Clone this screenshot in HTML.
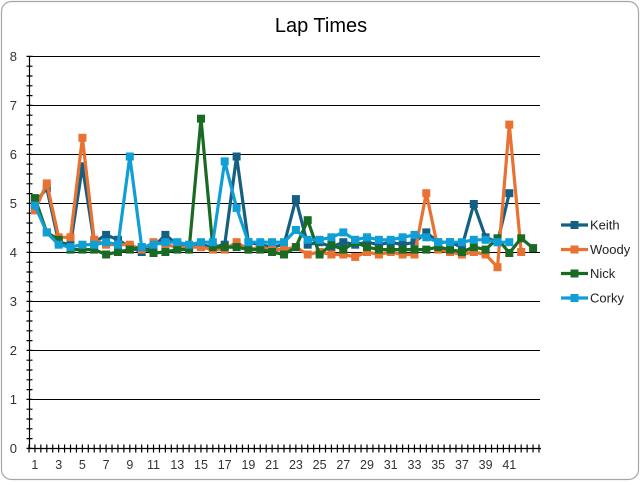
<!DOCTYPE html>
<html>
<head>
<meta charset="utf-8">
<style>
html,body{margin:0;padding:0;background:#fff;}
svg{display:block;}
text{font-family:"Liberation Sans",sans-serif;}
</style>
</head>
<body>
<svg width="641" height="482" viewBox="0 0 641 482" xmlns="http://www.w3.org/2000/svg">
<defs>
<marker id="mK" markerUnits="userSpaceOnUse" markerWidth="8" markerHeight="8" refX="4" refY="4" overflow="visible"><rect x="0" y="0" width="8" height="8" fill="#156082"/></marker>
<marker id="mW" markerUnits="userSpaceOnUse" markerWidth="8" markerHeight="8" refX="4" refY="4" overflow="visible"><rect x="0" y="0" width="8" height="8" fill="#E97132"/></marker>
<marker id="mN" markerUnits="userSpaceOnUse" markerWidth="8" markerHeight="8" refX="4" refY="4" overflow="visible"><rect x="0" y="0" width="8" height="8" fill="#196B24"/></marker>
<marker id="mC" markerUnits="userSpaceOnUse" markerWidth="8" markerHeight="8" refX="4" refY="4" overflow="visible"><rect x="0" y="0" width="8" height="8" fill="#0F9ED5"/></marker>
</defs>
<rect x="1.5" y="1.5" width="637" height="478" rx="10" ry="10" fill="#fff" stroke="#a6a6a6" stroke-width="1.2"/>
<text x="321" y="32" font-size="20" text-anchor="middle" fill="#000">Lap Times</text>

<!-- gridlines -->
<g stroke="#000" stroke-width="1.1">
<line x1="29" y1="56.5" x2="540" y2="56.5"/>
<line x1="29" y1="105.5" x2="540" y2="105.5"/>
<line x1="29" y1="154.5" x2="540" y2="154.5"/>
<line x1="29" y1="203.5" x2="540" y2="203.5"/>
<line x1="29" y1="252.5" x2="540" y2="252.5"/>
<line x1="29" y1="301.5" x2="540" y2="301.5"/>
<line x1="29" y1="350.5" x2="540" y2="350.5"/>
<line x1="29" y1="399.5" x2="540" y2="399.5"/>
</g>
<!-- axes -->
<line x1="29.5" y1="56" x2="29.5" y2="448" stroke="#000" stroke-width="1.2"/>
<line x1="29" y1="448.5" x2="541" y2="448.5" stroke="#000" stroke-width="1.2"/>
<!-- y ticks -->
<line x1="29.5" y1="449" x2="29.5" y2="55" stroke="#000" stroke-width="6" stroke-dasharray="1.2 8.6"/>
<!-- x ticks -->
<line x1="28.4" y1="448.5" x2="542" y2="448.5" stroke="#000" stroke-width="8" stroke-dasharray="1.2 4.73"/>

<!-- y labels -->
<g font-size="13" fill="#333" text-anchor="end">
<text x="17" y="61">8</text>
<text x="17" y="110">7</text>
<text x="17" y="159">6</text>
<text x="17" y="208">5</text>
<text x="17" y="257">4</text>
<text x="17" y="306">3</text>
<text x="17" y="355">2</text>
<text x="17" y="404">1</text>
<text x="17" y="453">0</text>
</g>
<!-- x labels -->
<g font-size="12.5" fill="#333" text-anchor="middle">
<text x="34.9" y="469">1</text>
<text x="58.7" y="469">3</text>
<text x="82.4" y="469">5</text>
<text x="106.1" y="469">7</text>
<text x="129.8" y="469">9</text>
<text x="153.5" y="469">11</text>
<text x="177.3" y="469">13</text>
<text x="201" y="469">15</text>
<text x="224.7" y="469">17</text>
<text x="248.4" y="469">19</text>
<text x="272.1" y="469">21</text>
<text x="295.9" y="469">23</text>
<text x="319.6" y="469">25</text>
<text x="343.3" y="469">27</text>
<text x="367" y="469">29</text>
<text x="390.7" y="469">31</text>
<text x="414.5" y="469">33</text>
<text x="438.2" y="469">35</text>
<text x="461.9" y="469">37</text>
<text x="485.6" y="469">39</text>
<text x="509.3" y="469">41</text>
</g>

<g fill="none" stroke-width="3.2" stroke-linejoin="round">
<!-- Keith -->
<polyline stroke="#156082" marker-start="url(#mK)" marker-mid="url(#mK)" marker-end="url(#mK)" points="34.9,203 46.8,188.3 58.7,242.2 70.5,244.7 82.4,166.3 94.2,242.2 106.1,234.9 118,239.8 129.8,247.1 141.7,252 153.5,247.1 165.4,234.9 177.3,244.7 189.1,247.1 201,244.7 212.8,247.1 224.7,244.7 236.6,156.5 248.4,242.2 260.3,244.7 272.1,247.1 284,244.7 295.9,199.1 307.7,244.7 319.6,242.2 331.4,247.1 343.3,242.2 355.2,244.7 367,242.2 378.9,244.7 390.7,242.2 402.6,244.7 414.5,242.2 426.3,232.4 438.2,242.2 450,242.2 461.9,247.1 473.8,204 485.6,237.3 497.5,242.2 509.3,193.2"/>
<!-- Woody -->
<polyline stroke="#E97132" marker-start="url(#mW)" marker-mid="url(#mW)" marker-end="url(#mW)" points="34.9,210.4 46.8,183.4 58.7,237.3 70.5,237.3 82.4,137.8 94.2,239.8 106.1,244.7 118,244.7 129.8,244.7 141.7,249.6 153.5,242.2 165.4,244.7 177.3,247.1 189.1,247.1 201,247.1 212.8,249.6 224.7,249.6 236.6,242.2 248.4,249.6 260.3,247.1 272.1,249.6 284,249.6 295.9,247.1 307.7,254.5 319.6,252 331.4,254.5 343.3,254.5 355.2,256.9 367,252 378.9,254.5 390.7,252 402.6,254.5 414.5,254.5 426.3,193.2 438.2,249.6 450,252 461.9,254.5 473.8,252 485.6,254.5 497.5,267.2 509.3,124.6 521.2,252"/>
<!-- Nick -->
<polyline stroke="#196B24" marker-start="url(#mN)" marker-mid="url(#mN)" marker-end="url(#mN)" points="34.9,198.1 46.8,232.4 58.7,239.8 70.5,249.6 82.4,249.6 94.2,249.6 106.1,254.5 118,252 129.8,249.6 141.7,247.1 153.5,253 165.4,252 177.3,249.6 189.1,249.6 201,118.7 212.8,247.1 224.7,247.1 236.6,247.1 248.4,249.6 260.3,249.6 272.1,252 284,254.5 295.9,247.1 307.7,220.2 319.6,254.5 331.4,244.7 343.3,249.6 355.2,242.2 367,247.1 378.9,249.6 390.7,249.6 402.6,249.6 414.5,249.6 426.3,249.6 438.2,247.1 450,249.6 461.9,252 473.8,247.1 485.6,249.6 497.5,238.3 509.3,253 521.2,238.3 533.1,248.1"/>
<!-- Corky -->
<polyline stroke="#0F9ED5" marker-start="url(#mC)" marker-mid="url(#mC)" marker-end="url(#mC)" points="34.9,205.5 46.8,232.4 58.7,244.7 70.5,247.1 82.4,244.7 94.2,244.7 106.1,242.2 118,244.7 129.8,156.5 141.7,247.1 153.5,244.7 165.4,242.2 177.3,242.2 189.1,244.7 201,242.2 212.8,242.2 224.7,161.4 236.6,207.9 248.4,242.2 260.3,242.2 272.1,242.2 284,242.2 295.9,230 307.7,239.8 319.6,239.8 331.4,237.3 343.3,232.4 355.2,239.8 367,237.3 378.9,239.8 390.7,239.8 402.6,237.3 414.5,234.9 426.3,237.3 438.2,242.2 450,242.2 461.9,242.2 473.8,239.8 485.6,239.8 497.5,242.2 509.3,242.2"/>
</g>

<!-- legend -->
<g stroke-width="3.2">
<line x1="561" y1="225" x2="588" y2="225" stroke="#156082"/>
<rect x="570.5" y="221" width="8" height="8" fill="#156082" stroke="none"/>
<line x1="561" y1="249.5" x2="588" y2="249.5" stroke="#E97132"/>
<rect x="570.5" y="245.5" width="8" height="8" fill="#E97132" stroke="none"/>
<line x1="561" y1="273.5" x2="588" y2="273.5" stroke="#196B24"/>
<rect x="570.5" y="269.5" width="8" height="8" fill="#196B24" stroke="none"/>
<line x1="561" y1="298" x2="588" y2="298" stroke="#0F9ED5"/>
<rect x="570.5" y="294" width="8" height="8" fill="#0F9ED5" stroke="none"/>
</g>
<g font-size="13" fill="#222">
<text x="590" y="229.5">Keith</text>
<text x="590" y="254">Woody</text>
<text x="590" y="278">Nick</text>
<text x="590" y="302.5">Corky</text>
</g>
</svg>
</body>
</html>
